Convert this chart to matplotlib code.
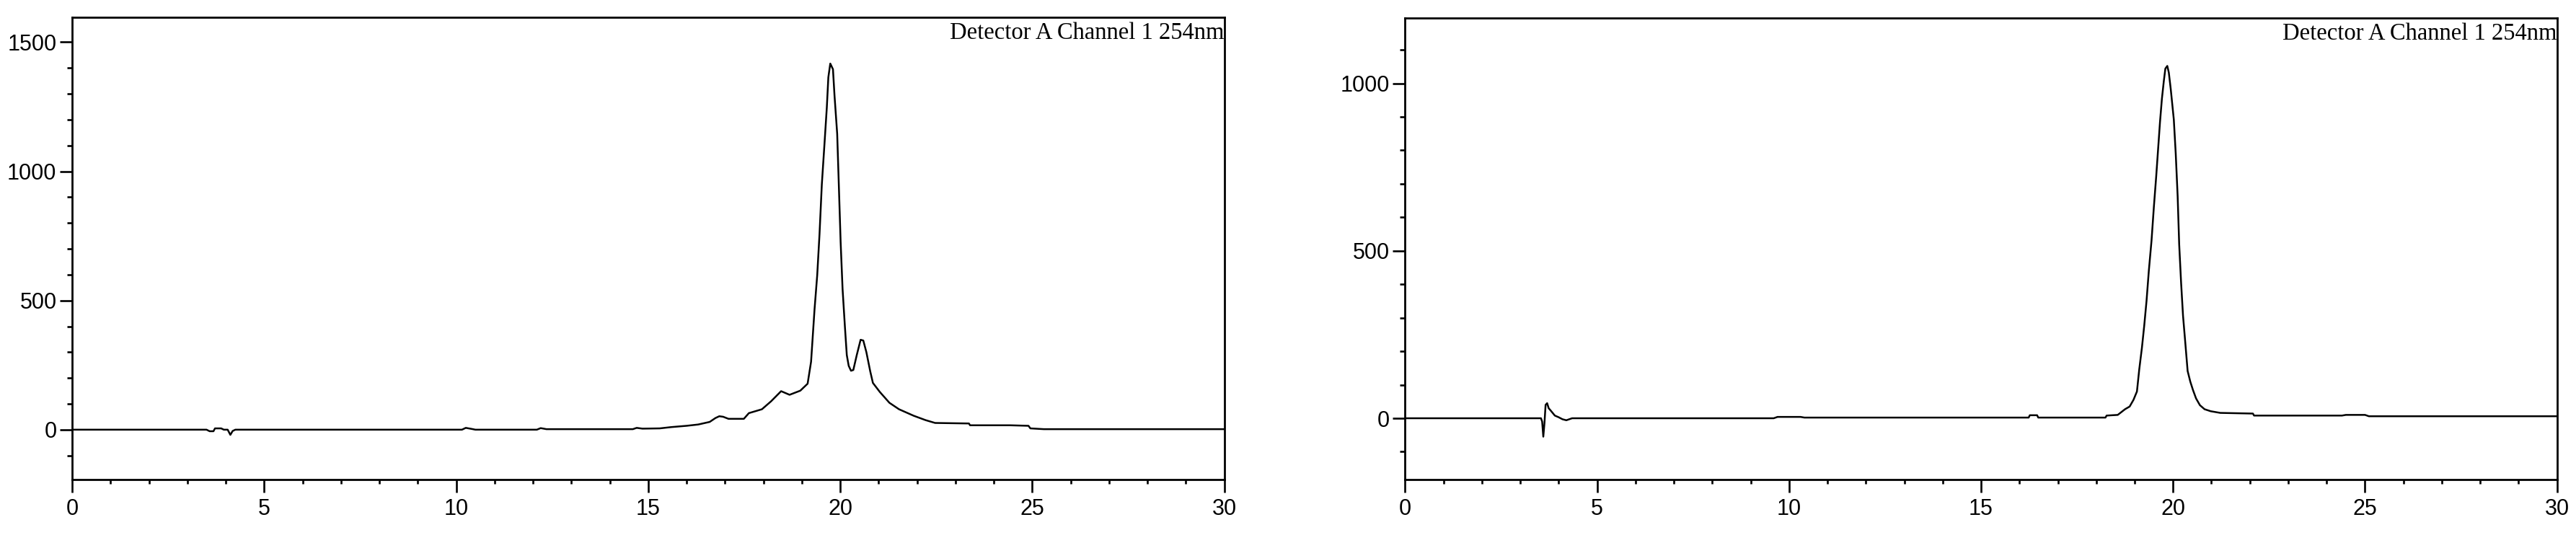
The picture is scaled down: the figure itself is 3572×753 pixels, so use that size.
import matplotlib
matplotlib.use("Agg")
import matplotlib.pyplot as plt
from matplotlib.ticker import MultipleLocator

# retention time (min) and detector signal
t_left = [0.0, 3.50, 3.58, 3.68, 3.72, 3.88, 3.95, 4.05, 4.12, 4.18, 4.25,
          10.15, 10.25, 10.40, 10.50, 12.10, 12.20, 12.35, 14.60, 14.70, 14.85,
          15.30, 15.60, 16.00, 16.30, 16.60, 16.75, 16.85, 16.95, 17.09, 17.49,
          17.62, 17.96, 18.20, 18.46, 18.68, 18.96, 19.15, 19.24, 19.33, 19.40,
          19.46, 19.52, 19.59, 19.65, 19.69, 19.74, 19.81, 19.85, 19.92, 19.96,
          20.01, 20.06, 20.12, 20.17, 20.22, 20.28, 20.34, 20.43, 20.53, 20.60,
          20.68, 20.78, 20.85, 21.03, 21.28, 21.53, 21.91, 22.22, 22.47, 23.35,
          23.38, 24.42, 24.90, 24.95, 25.30, 30.0]
y_left = [0, 0, -6, -6, 5, 5, 0, 0, -20, -5, 0,
          0, 7, 3, 0, 0, 6, 2, 2, 7, 4,
          5, 10, 15, 20, 30, 45, 52, 50, 42, 42,
          64, 79, 110, 149, 135, 151, 178, 263, 465, 598,
          757, 949, 1108, 1247, 1364, 1417, 1395, 1294, 1145, 959,
          725, 545, 401, 289, 247, 228, 231, 289, 348, 345,
          300, 226, 181, 146, 104, 79, 54, 37, 26, 24,
          17, 17, 15, 5, 2, 2]

t_right = [0.0, 3.54, 3.57, 3.60, 3.63, 3.66, 3.70, 3.74, 3.80, 3.85, 3.90,
           4.00, 4.10, 4.20, 4.35, 9.60, 9.70, 10.30, 10.40, 16.24, 16.27,
           16.46, 16.49, 18.24, 18.27, 18.56, 18.75, 18.87, 18.97, 19.06, 19.12,
           19.19, 19.25, 19.31, 19.37, 19.44, 19.50, 19.56, 19.61, 19.66, 19.71,
           19.76, 19.80, 19.85, 19.89, 19.94, 20.02, 20.07, 20.12, 20.16, 20.21,
           20.26, 20.32, 20.38, 20.45, 20.52, 20.60, 20.70, 20.82, 20.98, 21.23,
           22.08, 22.11, 24.40, 24.50, 25.00, 25.10, 30.0]
y_right = [0, 0, -10, -55, -15, 40, 45, 30, 22, 15, 8,
           3, -3, -6, 0, 0, 4, 4, 2, 2, 9,
           9, 2, 2, 8, 10, 27, 35, 55, 80, 146,
           211, 277, 351, 441, 531, 630, 720, 802, 884, 954,
           1007, 1044, 1052, 1032, 983, 892, 790, 663, 519, 404,
           306, 224, 141, 109, 84, 59, 39, 27, 21, 16,
           14, 8, 8, 10, 10, 6, 6]

label = "Detector A Channel 1 254nm"

fig = plt.figure(figsize=(35.73, 7.53), dpi=100)
ax1 = fig.add_axes([0.02799, 0.11687, 0.44716, 0.85126])
ax2 = fig.add_axes([0.54529, 0.11687, 0.44707, 0.84993])

panels = [(ax1, t_left, y_left, (-193, 1596)),
          (ax2, t_right, y_right, (-183, 1195))]

for ax, t, y, ylim in panels:
    ax.plot(t, y, color="black", lw=1.8)
    ax.set_xlim(0, 30)
    ax.set_ylim(*ylim)
    ax.xaxis.set_major_locator(MultipleLocator(5))
    ax.xaxis.set_minor_locator(MultipleLocator(1))
    ax.yaxis.set_major_locator(MultipleLocator(500))
    ax.yaxis.set_minor_locator(MultipleLocator(100))
    ax.tick_params(axis="both", which="both", direction="out", width=1.9,
                   colors="black", labelsize=22)
    ax.tick_params(axis="y", which="major", length=12.5, pad=3)
    ax.tick_params(axis="y", which="minor", length=5)
    ax.tick_params(axis="x", which="major", length=12.7, pad=6)
    ax.tick_params(axis="x", which="minor", length=4.6)
    for lab in ax.get_xticklabels() + ax.get_yticklabels():
        lab.set_family("Liberation Sans")
    for s in ax.spines.values():
        s.set_linewidth(2.0)
    ax.annotate(label, xy=(1, 1), xycoords="axes fraction",
                xytext=(0, -5), textcoords="offset points",
                ha="right", va="top", fontsize=23.5,
                family="Liberation Serif")

fig.savefig("out.png", dpi=100)
